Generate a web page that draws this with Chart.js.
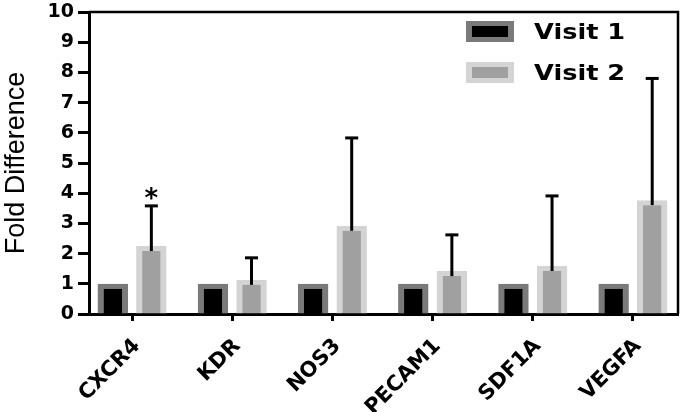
<!DOCTYPE html>
<html>
<head>
<meta charset="utf-8">
<script src="https://cdn.jsdelivr.net/npm/chart.js@4.4.1/dist/chart.umd.min.js"></script>
<style>
  html, body { margin: 0; padding: 0; background: #fff; overflow: hidden; }
  #wrap { width: 685px; height: 412px; position: relative; }
</style>
</head>
<body>
<div id="wrap"><canvas id="chart"></canvas></div>
<script>
const categories = ["CXCR4", "KDR", "NOS3", "PECAM1", "SDF1A", "VEGFA"];
const seriesNames = ["Visit 1", "Visit 2"];
const visit1 = [1, 1, 1, 1, 1, 1];
const visit2 = [2.25, 1.13, 2.92, 1.42, 1.59, 3.77];
const visit2Error = [1.33, 0.73, 2.91, 1.2, 2.32, 4.03];
const significance = ["*", "", "", "", "", ""];
const yTicks = [0, 1, 2, 3, 4, 5, 6, 7, 8, 9, 10];

const boldFont = '"DejaVu Sans", sans-serif';

// upper-only error bars + significance mark for Visit 2
const errorBars = {
  id: "errorBars",
  afterDatasetsDraw(chart) {
    const ctx = chart.ctx;
    const y = chart.scales.y;
    const meta = chart.getDatasetMeta(1);
    ctx.save();
    ctx.strokeStyle = "#000";
    ctx.fillStyle = "#000";
    ctx.lineWidth = 3;
    meta.data.forEach((bar, i) => {
      const top = y.getPixelForValue(visit2[i] + visit2Error[i]);
      ctx.beginPath();
      ctx.moveTo(bar.x, bar.y + 5);
      ctx.lineTo(bar.x, top);
      ctx.stroke();
      ctx.beginPath();
      ctx.moveTo(bar.x - 6.5, top);
      ctx.lineTo(bar.x + 6.5, top);
      ctx.stroke();
      if (significance[i]) {
        ctx.font = "bold 26px " + boldFont;
        ctx.textAlign = "center";
        ctx.textBaseline = "alphabetic";
        ctx.fillText(significance[i], bar.x, top + 1);
      }
    });
    ctx.restore();
  },
};

// top and right edges of the plot box
const frame = {
  id: "frame",
  beforeDatasetsDraw(chart) {
    const { ctx, chartArea: a } = chart;
    ctx.save();
    ctx.strokeStyle = "#000";
    ctx.lineWidth = 2.5;
    ctx.beginPath();
    ctx.moveTo(a.left, a.top);
    ctx.lineTo(a.right, a.top);
    ctx.lineTo(a.right, a.bottom);
    ctx.stroke();
    ctx.restore();
  },
};

const boxLegend = {
  id: "boxLegend",
  afterDraw(chart) {
    const ctx = chart.ctx;
    ctx.save();
    chart.data.datasets.forEach((ds, i) => {
      const top = 21 + i * 41;
      ctx.fillStyle = ds.borderColor;
      ctx.fillRect(466, top, 48, 21);
      ctx.fillStyle = ds.backgroundColor;
      ctx.fillRect(472, top + 5, 36, 11);
      ctx.save();
      ctx.translate(534, top + 17.5);
      ctx.scale(1.22, 1);
      ctx.fillStyle = "#000";
      ctx.font = "bold 21px " + boldFont;
      ctx.textBaseline = "alphabetic";
      ctx.fillText(ds.label, 0, 0);
      ctx.restore();
    });
    ctx.restore();
  },
};

const barStyle = {
  borderSkipped: "start",
  borderWidth: { top: 5, left: 6, right: 6, bottom: 0 },
  categoryPercentage: 0.77,
  barPercentage: 0.79,
};

new Chart(document.getElementById("chart"), {
  type: "bar",
  data: {
    labels: categories.map((_, i) => i),
    datasets: [
      { label: seriesNames[0], data: visit1, backgroundColor: "#000000", borderColor: "#7a7a7a", ...barStyle },
      { label: seriesNames[1], data: visit2, backgroundColor: "#a0a0a0", borderColor: "#d4d4d4", ...barStyle },
    ],
  },
  options: {
    responsive: true,
    maintainAspectRatio: false,
    animation: false,
    layout: { padding: { top: 12, right: 7, left: 0, bottom: 0 } },
    plugins: { legend: { display: false }, tooltip: { enabled: false } },
    scales: {
      x: {
        type: "linear",
        offset: false,
        min: -0.43,
        max: 5.45,
        afterBuildTicks: (s) => {
          s.ticks = categories.map((_, i) => ({ value: i }));
        },
        afterFit: (s) => {
          s.height = 98;
          s.paddingLeft = 0;
          s.paddingRight = 0;
        },
        ticks: {
          callback: (v) => categories[v],
          autoSkip: false,
          minRotation: 45,
          maxRotation: 45,
          color: "#000",
          padding: 13,
          labelOffset: 5,
          font: { family: boldFont, weight: "bold", size: 21 },
        },
        grid: { offset: false, drawOnChartArea: false, tickLength: 7, tickWidth: 3, tickColor: "#000" },
        border: { color: "#000", width: 3 },
      },
      y: {
        min: 0,
        max: 10,
        afterBuildTicks: (s) => {
          s.ticks = yTicks.map((v) => ({ value: v }));
        },
        afterFit: (s) => {
          s.width = 89;
          s.paddingTop = 0;
          s.paddingBottom = 0;
        },
        ticks: {
          color: "#000",
          padding: 4,
          font: { family: boldFont, weight: "bold", size: 19 },
        },
        grid: { drawOnChartArea: false, tickLength: 11, tickWidth: 3, tickColor: "#000" },
        border: { color: "#000", width: 3 },
        title: {
          display: true,
          text: "Fold Difference",
          color: "#000",
          font: { family: '"Liberation Sans", Arial, sans-serif', size: 27 },
          padding: { top: 0, bottom: 0 },
        },
      },
    },
  },
  plugins: [frame, errorBars, boxLegend],
});
</script>
</body>
</html>
